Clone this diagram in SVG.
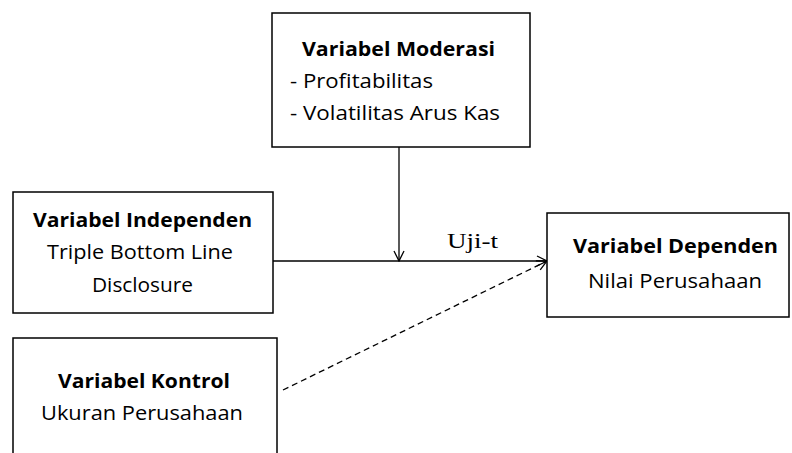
<svg xmlns="http://www.w3.org/2000/svg" width="792" height="453" viewBox="0 0 792 453">
<defs>
<style>
.box{fill:#fff;stroke:#000;stroke-width:1.5}
.t{font-family:"Open Sans","Liberation Sans",Arial,sans-serif;font-size:20px;fill:#000}
.b{font-weight:bold}
.ln{stroke:#000;stroke-width:1.3;fill:none}
.lbl{font-family:"Liberation Serif","Times New Roman",serif;font-size:22px;fill:#000}
</style>
<marker id="ah" viewBox="0 0 12 12" refX="11" refY="6" markerWidth="12" markerHeight="12" markerUnits="userSpaceOnUse" orient="auto">
<path d="M1,1 L11,6 L1,11" fill="none" stroke="#000" stroke-width="1.3"/>
</marker>
</defs>
<rect width="792" height="453" fill="#fff"/>
<g id="connectors">
<line class="ln" x1="399" y1="147" x2="399" y2="261" marker-end="url(#ah)"/>
<line class="ln" x1="273" y1="261" x2="547" y2="261" marker-end="url(#ah)"/>
<line class="ln" x1="283" y1="390" x2="547" y2="261" stroke-dasharray="6,4" marker-end="url(#ah)"/>
<text class="lbl" x="447" y="248" textLength="51" lengthAdjust="spacingAndGlyphs">Uji-t</text>
</g>
<g id="moderasi">
<rect class="box" x="272" y="13" width="258" height="134"/>
<text class="t b" x="302" y="56" textLength="193" lengthAdjust="spacingAndGlyphs">Variabel Moderasi</text>
<text class="t" x="290" y="88" textLength="143" lengthAdjust="spacingAndGlyphs">- Profitabilitas</text>
<text class="t" x="290" y="120" textLength="210" lengthAdjust="spacingAndGlyphs">- Volatilitas Arus Kas</text>
</g>
<g id="independen">
<rect class="box" x="13" y="192" width="260" height="121"/>
<text class="t b" x="33" y="227" textLength="219" lengthAdjust="spacingAndGlyphs">Variabel Independen</text>
<text class="t" x="47" y="259" textLength="186" lengthAdjust="spacingAndGlyphs">Triple Bottom Line</text>
<text class="t" x="92" y="292" textLength="101" lengthAdjust="spacingAndGlyphs">Disclosure</text>
</g>
<g id="kontrol">
<rect class="box" x="13" y="338" width="264" height="130"/>
<text class="t b" x="58" y="388" textLength="172" lengthAdjust="spacingAndGlyphs">Variabel Kontrol</text>
<text class="t" x="41" y="420" textLength="202" lengthAdjust="spacingAndGlyphs">Ukuran  Perusahaan</text>
</g>
<g id="dependen">
<rect class="box" x="547" y="213" width="242" height="104"/>
<text class="t b" x="573" y="253" textLength="205" lengthAdjust="spacingAndGlyphs">Variabel Dependen</text>
<text class="t" x="588" y="288" textLength="174" lengthAdjust="spacingAndGlyphs">Nilai Perusahaan</text>
</g>
</svg>
